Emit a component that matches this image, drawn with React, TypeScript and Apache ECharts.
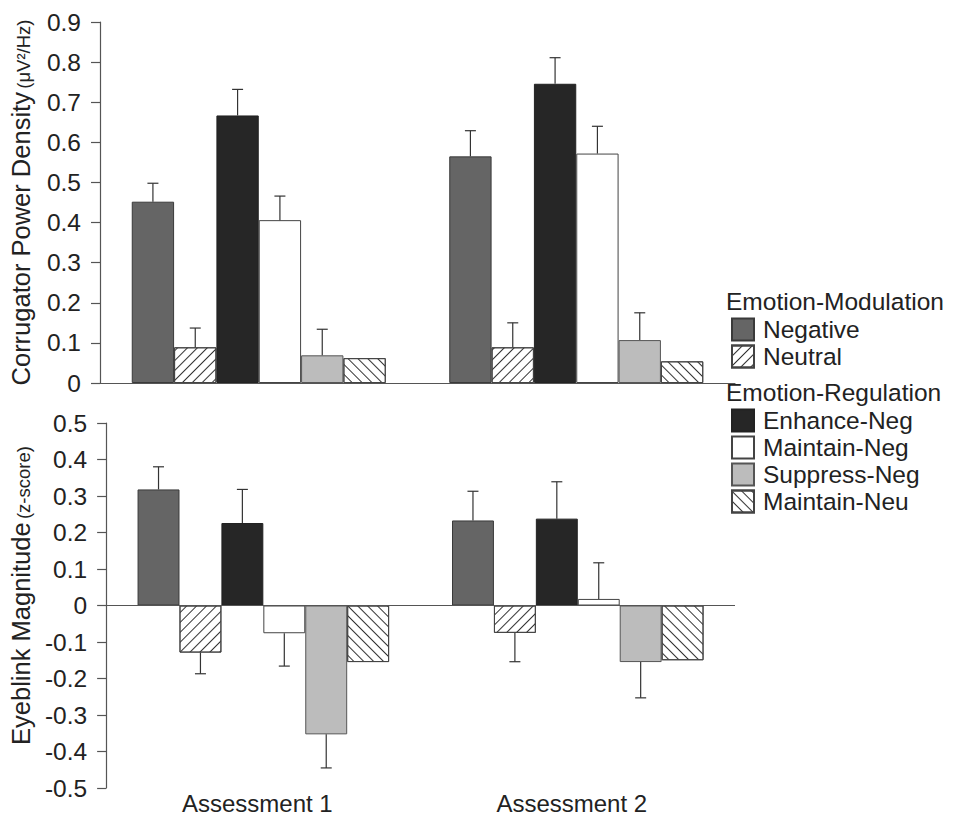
import React, { useEffect, useRef } from "react";
import * as echarts from "echarts";

const categories = ["Assessment 1", "Assessment 2"];
const seriesNames = ["Negative", "Neutral", "Enhance-Neg", "Maintain-Neg", "Suppress-Neg", "Maintain-Neu"];
const modulationNames = ["Negative", "Neutral"];
const regulationNames = ["Enhance-Neg", "Maintain-Neg", "Suppress-Neg", "Maintain-Neu"];

// Corrugator power density (top panel)
const corrNegative = [0.452, 0.565];
const corrNeutral = [0.089, 0.089];
const corrEnhance = [0.667, 0.746];
const corrMaintain = [0.406, 0.572];
const corrSuppress = [0.069, 0.107];
const corrMaintainNeu = [0.062, 0.054];
const corrNegativeErr = [0.046, 0.064];
const corrNeutralErr = [0.048, 0.061];
const corrEnhanceErr = [0.065, 0.065];
const corrMaintainErr = [0.06, 0.068];
const corrSuppressErr = [0.065, 0.068];

// Eyeblink magnitude (bottom panel)
const blinkNegative = [0.318, 0.233];
const blinkNeutral = [-0.129, -0.075];
const blinkEnhance = [0.226, 0.238];
const blinkMaintain = [-0.076, 0.018];
const blinkSuppress = [-0.353, -0.155];
const blinkMaintainNeu = [-0.155, -0.15];
const blinkNegativeErr = [0.062, 0.08];
const blinkNeutralErr = [0.058, 0.079];
const blinkEnhanceErr = [0.092, 0.101];
const blinkMaintainErr = [0.09, 0.099];
const blinkSuppressErr = [0.092, 0.098];

const topTicks = { min: 0, max: 0.9, interval: 0.1 };
const bottomTicks = { min: -0.5, max: 0.5, interval: 0.1 };

const FONT = "'Liberation Sans', Arial, Helvetica, sans-serif";
const TEXT = "#222";
const AXIS = "#555";
const BAR_GAP_RATIO = 0.2;
const NBARS = 6;

const hatch = (rot: number) => ({
  symbol: "rect",
  symbolSize: 1,
  dashArrayX: [1, 0],
  dashArrayY: [1, 6],
  rotation: rot,
  color: "#333",
  backgroundColor: "#ffffff",
});

const styles: any[] = [
  { color: "#656565", borderColor: "#3a3a3a", borderWidth: 1 },
  { color: "#ffffff", borderColor: "#444", borderWidth: 1, decal: hatch(-Math.PI / 4) },
  { color: "#262626", borderColor: "#222", borderWidth: 1 },
  { color: "#ffffff", borderColor: "#444", borderWidth: 1 },
  { color: "#bcbcbc", borderColor: "#555", borderWidth: 1 },
  { color: "#ffffff", borderColor: "#444", borderWidth: 1, decal: hatch(Math.PI / 4) },
];

const fmt = (v: number) => (Math.abs(v) < 1e-9 ? "0" : v.toFixed(1));

function errorSeries(grid: number, values: number[][], errs: number[][]) {
  const data: number[][] = [];
  errs.forEach((e, s) => {
    e.forEach((err, c) => {
      data.push([c, values[s][c], err, s]);
    });
  });
  return {
    type: "custom",
    name: "err" + grid,
    xAxisIndex: grid,
    yAxisIndex: grid,
    z: 5,
    silent: true,
    data,
    renderItem: (params: any, api: any) => {
      const c = api.value(0);
      const v = api.value(1);
      const err = api.value(2);
      const s = api.value(3);
      const base = api.coord([c, v]);
      const end = api.coord([c, v + (v >= 0 ? err : -err)]);
      const band = api.size([1, 0])[0];
      const bw = (band * (1 - BAR_GAP_RATIO)) / NBARS;
      const x = base[0] - (band * (1 - BAR_GAP_RATIO)) / 2 + bw * (s + 0.5);
      const st = { stroke: "#333", lineWidth: 1.2 };
      return {
        type: "group",
        children: [
          { type: "line", shape: { x1: x, y1: base[1], x2: x, y2: end[1] }, style: st },
          { type: "line", shape: { x1: x - 5.5, y1: end[1], x2: x + 5.5, y2: end[1] }, style: st },
        ],
      };
    },
  };
}

export default function App() {
  const ref = useRef<HTMLDivElement>(null);
  useEffect(() => {
    if (!ref.current) return;
    const chart = echarts.init(ref.current, null, { renderer: "svg" });
    const topValues = [corrNegative, corrNeutral, corrEnhance, corrMaintain, corrSuppress, corrMaintainNeu];
    const bottomValues = [blinkNegative, blinkNeutral, blinkEnhance, blinkMaintain, blinkSuppress, blinkMaintainNeu];
    const topErrs = [corrNegativeErr, corrNeutralErr, corrEnhanceErr, corrMaintainErr, corrSuppressErr];
    const bottomErrs = [blinkNegativeErr, blinkNeutralErr, blinkEnhanceErr, blinkMaintainErr, blinkSuppressErr];

    const barSeries: any[] = [];
    seriesNames.forEach((name, i) => {
      barSeries.push({
        type: "bar",
        name,
        xAxisIndex: 0,
        yAxisIndex: 0,
        data: topValues[i],
        barGap: "0%",
        barCategoryGap: "20%",
        itemStyle: styles[i],
        emphasis: { disabled: true },
      });
    });
    seriesNames.forEach((name, i) => {
      const s: any = {
        type: "bar",
        name,
        xAxisIndex: 1,
        yAxisIndex: 1,
        data: bottomValues[i],
        barGap: "0%",
        barCategoryGap: "20%",
        itemStyle: styles[i],
        emphasis: { disabled: true },
      };
      if (i === 0) {
        s.markLine = {
          silent: true,
          symbol: "none",
          label: { show: false },
          lineStyle: { color: AXIS, width: 1.2, type: "solid" },
          data: [{ yAxis: 0 }],
        };
      }
      barSeries.push(s);
    });

    const nameRich = {
      a: { fontSize: 25.5, color: TEXT, fontFamily: FONT, verticalAlign: "bottom" },
      b: { fontSize: 18.5, color: TEXT, fontFamily: FONT, verticalAlign: "bottom", padding: [0, 0, 1, 0] },
    };

    const yAxisCommon = {
      type: "value",
      nameLocation: "middle",
      nameRotate: 90,
      splitLine: { show: false },
      axisLine: { show: true, lineStyle: { color: AXIS, width: 1.2 } },
      axisTick: { show: true, length: 9, lineStyle: { color: AXIS, width: 1.2 } },
      axisLabel: { fontSize: 24.5, color: TEXT, fontFamily: FONT, margin: 19, formatter: fmt },
    };

    const legendText = { fontSize: 24.5, color: TEXT, fontFamily: FONT, lineHeight: 24, padding: [0, 0, 0, 4] };

    const option: any = {
      animation: false,
      backgroundColor: "#ffffff",
      textStyle: { fontFamily: FONT },
      grid: [
        { left: 98, top: 22, width: 637, height: 361 },
        { left: 98, top: 423, width: 637, height: 365 },
      ],
      xAxis: [
        {
          type: "category",
          gridIndex: 0,
          data: categories,
          axisLine: { show: true, lineStyle: { color: AXIS, width: 1.2 } },
          axisTick: { show: false },
          axisLabel: { show: false },
        },
        {
          type: "category",
          gridIndex: 1,
          data: categories,
          axisLine: { show: false, onZero: false },
          axisTick: { show: false },
          axisLabel: { fontSize: 24, color: TEXT, fontFamily: FONT, margin: 3, padding: [0, 12, 0, 0] },
        },
      ],
      yAxis: [
        {
          ...yAxisCommon,
          gridIndex: 0,
          ...topTicks,
          name: "{a|Corrugator Power Density} {b|(μV²/Hz)}",
          nameGap: 66,
          nameTextStyle: { rich: nameRich },
        },
        {
          ...yAxisCommon,
          gridIndex: 1,
          ...bottomTicks,
          name: "{a|Eyeblink Magnitude} {b|(z-score)}",
          nameGap: 66,
          nameTextStyle: { rich: nameRich, padding: [0, 0, 0, 20] },
        },
      ],
      legend: [
        {
          data: modulationNames,
          orient: "vertical",
          left: 726,
          top: 312,
          itemWidth: 22,
          itemHeight: 22,
          itemGap: 2,
          icon: "rect",
          selectedMode: false,
          textStyle: legendText,
        },
        {
          data: regulationNames,
          orient: "vertical",
          left: 726,
          top: 403,
          itemWidth: 22,
          itemHeight: 22,
          itemGap: 2,
          icon: "rect",
          selectedMode: false,
          textStyle: legendText,
        },
      ],
      graphic: [
        {
          type: "text",
          left: 726,
          top: 289,
          style: { text: "Emotion-Modulation", fontSize: 24.5, fill: TEXT, fontFamily: FONT },
        },
        {
          type: "text",
          left: 726,
          top: 380,
          style: { text: "Emotion-Regulation", fontSize: 24.5, fill: TEXT, fontFamily: FONT },
        },
      ],
      series: [...barSeries, errorSeries(0, topValues, topErrs), errorSeries(1, bottomValues, bottomErrs)],
    };
    chart.setOption(option);
    return () => chart.dispose();
  }, []);
  return (
    <div
      ref={ref}
      style={{ position: "fixed", left: 0, top: 0, width: 962, height: 824, background: "#fff" }}
    />
  );
}
